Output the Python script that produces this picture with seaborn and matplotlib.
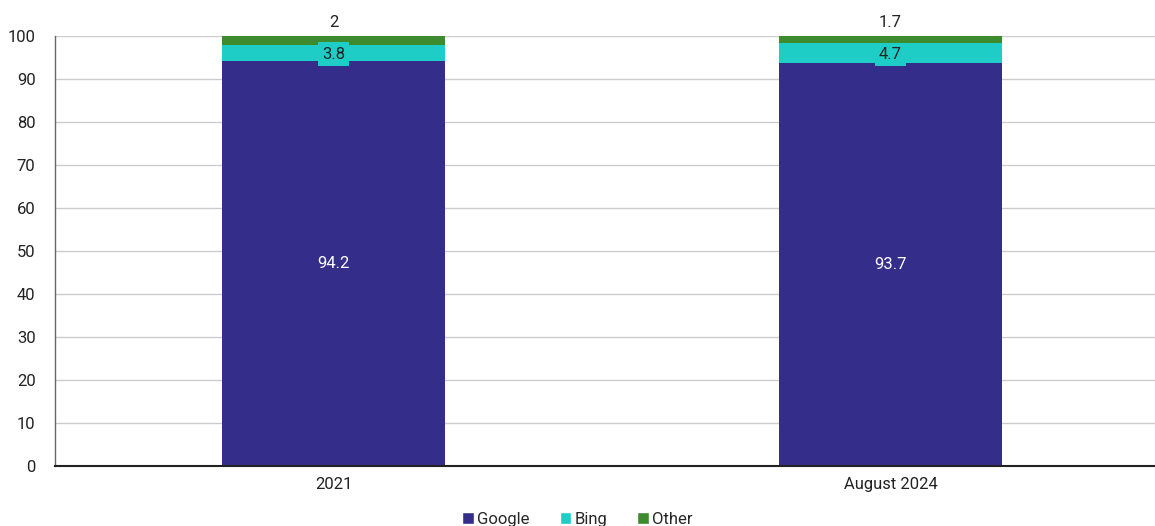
import matplotlib
matplotlib.use("Agg")
import matplotlib.pyplot as plt
import seaborn as sns
import pandas as pd
from matplotlib.patches import Patch

# data
periods = ["2021", "August 2024"]
google = [94.2, 93.7]
bing = [3.8, 4.7]
other = [2.0, 1.7]

colors = {"Google": "#352d8a", "Bing": "#1ecdc6", "Other": "#3d8a2f"}

sns.set_style("white")
plt.rcParams["font.family"] = ["Roboto", "DejaVu Sans"]

fig = plt.figure(figsize=(11.55, 5.26), dpi=100)
ax = fig.add_axes([0.0476, 0.114, 0.9524, 0.8176])

df = pd.DataFrame({"period": periods, "Google": google, "Bing": bing, "Other": other})
base_bing = df["Google"]
base_other = df["Google"] + df["Bing"]

common = dict(width=0.4, saturation=1, ax=ax, zorder=3, linewidth=0)
sns.barplot(data=df, x="period", y="Google", color=colors["Google"], **common)
sns.barplot(data=df, x="period", y="Bing", color=colors["Bing"], bottom=base_bing, **common)
sns.barplot(data=df, x="period", y="Other", color=colors["Other"], bottom=base_other, **common)

# labels
for i in range(len(periods)):
    ax.text(i, google[i] / 2, f"{google[i]:g}", ha="center", va="center",
            color="white", fontsize=12, zorder=5)
    ax.text(i, google[i] + bing[i] / 2 - 0.3, f"{bing[i]:g}", ha="center", va="center",
            color="#222222", fontsize=12, zorder=5,
            bbox=dict(boxstyle="square,pad=0.25", fc=colors["Bing"], ec="none"))
    ax.text(i, 100 + 1.3, f"{other[i]:g}", ha="center", va="bottom",
            color="#222222", fontsize=12, zorder=5)

ax.set_xlim(-0.5, 1.475)
ax.set_ylim(0, 100)
ax.set_yticks(range(0, 101, 10))
ax.yaxis.grid(True, color="#cccccc", linewidth=1, zorder=0)
ax.set_axisbelow(True)
ax.set_xlabel("")
ax.set_ylabel("")
ax.tick_params(axis="both", labelsize=12, colors="#222222", length=0, pad=8)
ax.tick_params(axis="y", pad=14)

for s in ["top", "right"]:
    ax.spines[s].set_visible(False)
ax.spines["left"].set_color("#666666")
ax.spines["left"].set_linewidth(1)
ax.spines["bottom"].set_color("#222222")
ax.spines["bottom"].set_linewidth(1.5)
ax.spines["left"].set_zorder(4)
ax.spines["bottom"].set_zorder(4)

handles = [Patch(facecolor=colors[k], label=k) for k in ["Google", "Bing", "Other"]]
fig.legend(handles=handles, loc="lower center", bbox_to_anchor=(0.5, -0.03), ncol=3,
           frameon=False, fontsize=12, handlelength=0.7, handleheight=0.7,
           handletextpad=0.2, columnspacing=1.8)

fig.savefig("out.png", dpi=100)
